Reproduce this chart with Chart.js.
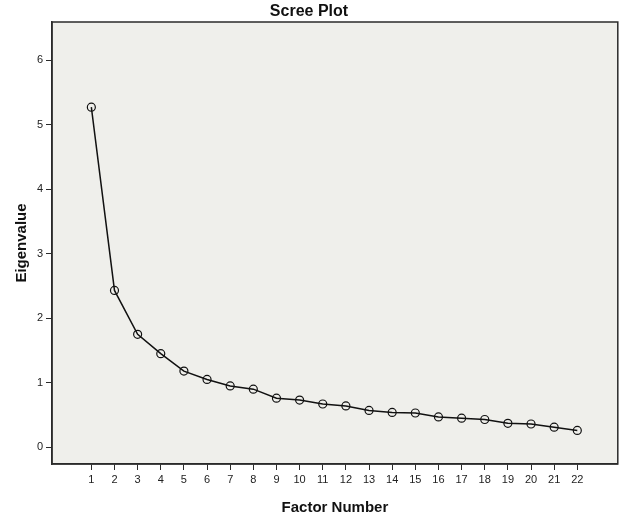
<!DOCTYPE html>
<html>
<head>
<meta charset="utf-8">
<script src="https://cdn.jsdelivr.net/npm/chart.js@4"></script>
<style>
  html, body { margin: 0; padding: 0; background: #ffffff; }
  #wrap { width: 623px; height: 531px; }
</style>
</head>
<body>
<div id="wrap"><canvas id="scree"></canvas></div>
<script>
const factors = [1, 2, 3, 4, 5, 6, 7, 8, 9, 10, 11, 12, 13, 14, 15, 16, 17, 18, 19, 20, 21, 22];
const eigenvalues = [5.27, 2.43, 1.75, 1.45, 1.18, 1.05, 0.95, 0.90, 0.76, 0.73, 0.67, 0.64,
  0.57, 0.54, 0.53, 0.47, 0.45, 0.43, 0.37, 0.36, 0.31, 0.26];
const yTicks = [0, 1, 2, 3, 4, 5, 6];

const axisColor = "#2b2b2b";
const tickFont = { family: "'Liberation Sans Narrow', 'Liberation Sans', Arial, sans-serif", size: 11 };
const titleFont = { family: "'Liberation Sans', Arial, sans-serif", size: 15, weight: "bold" };

const plotBox = {
  id: "plotBox",
  beforeDraw(chart) {
    const { ctx, chartArea: a } = chart;
    ctx.save();
    ctx.fillStyle = "#efefeb";
    ctx.fillRect(a.left, a.top, a.right - a.left, a.bottom - a.top);
    ctx.restore();
  },
  afterDraw(chart) {
    const { ctx, chartArea: a } = chart;
    ctx.save();
    ctx.strokeStyle = axisColor;
    ctx.lineWidth = 1.5;
    ctx.strokeRect(a.left, a.top, a.right - a.left, a.bottom - a.top);
    ctx.restore();
  },
};

new Chart(document.getElementById("scree"), {
  type: "line",
  data: {
    datasets: [
      {
        data: factors.map((f, i) => ({ x: f, y: eigenvalues[i] })),
        borderColor: "#111111",
        borderWidth: 1.5,
        pointRadius: 4,
        pointBorderWidth: 1.2,
        pointBorderColor: "#111111",
        pointBackgroundColor: "rgba(0,0,0,0)",
        tension: 0,
        fill: false,
      },
    ],
  },
  options: {
    responsive: true,
    maintainAspectRatio: false,
    animation: false,
    devicePixelRatio: 1,
    layout: { padding: { top: 0, right: 5, bottom: 0, left: 0 } },
    plugins: {
      legend: { display: false },
      tooltip: { enabled: false },
      title: {
        display: true,
        text: "Scree Plot",
        color: "#111111",
        font: { ...titleFont, size: 16 },
        padding: { top: 2, bottom: 0.8 },
      },
    },
    scales: {
      x: {
        type: "linear",
        min: -0.7,
        max: 23.75,
        afterBuildTicks(scale) {
          scale.ticks = factors.map((f) => ({ value: f }));
        },
        afterFit(scale) {
          scale.height = 67;
        },
        grid: { drawOnChartArea: false, drawTicks: true, tickLength: 6, color: axisColor, lineWidth: 1 },
        border: { display: true, color: axisColor, width: 1.5 },
        ticks: { color: "#222222", font: tickFont, padding: 3, maxRotation: 0, autoSkip: false },
        title: {
          display: true,
          text: "Factor Number",
          color: "#111111",
          font: titleFont,
          padding: { top: 0, bottom: 14 },
        },
      },
      y: {
        min: -0.26,
        max: 6.59,
        afterBuildTicks(scale) {
          scale.ticks = yTicks.map((v) => ({ value: v }));
        },
        afterFit(scale) {
          scale.width = 52;
        },
        grid: { drawOnChartArea: false, drawTicks: true, tickLength: 6, color: axisColor, lineWidth: 1 },
        border: { display: true, color: axisColor, width: 1.5 },
        ticks: { color: "#222222", font: tickFont, padding: 3 },
        title: {
          display: true,
          text: "Eigenvalue",
          color: "#111111",
          font: titleFont,
          padding: { top: 13, bottom: 0 },
        },
      },
    },
  },
  plugins: [plotBox],
});
</script>
</body>
</html>
